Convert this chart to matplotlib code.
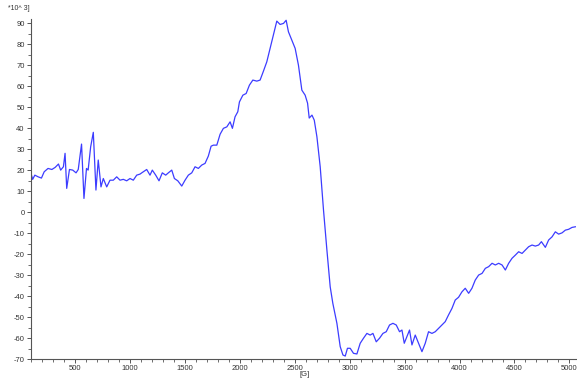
import matplotlib
matplotlib.use("Agg")
import matplotlib.pyplot as plt
from matplotlib.ticker import MultipleLocator

plt.rcParams["font.family"] = ["Liberation Sans", "DejaVu Sans"]
plt.rcParams["axes.unicode_minus"] = False

# Magnetic field [G]
field_g = [
    100, 115, 135, 165, 195, 220, 255, 290, 320, 350, 370, 395, 410, 425, 450,
    480, 510, 530, 560, 582, 605, 620, 643, 667, 691, 712, 737, 758, 789, 819,
    849, 880, 910, 940, 971, 1001, 1031, 1062, 1092, 1108, 1153, 1183, 1204,
    1235, 1265, 1295, 1326, 1350, 1381, 1405, 1436, 1472, 1502, 1532, 1563,
    1593, 1623, 1654, 1684, 1714, 1739, 1760, 1791, 1821, 1851, 1882, 1912,
    1933, 1957, 1982, 1997, 2028, 2058, 2088, 2119, 2155, 2185, 2215, 2246,
    2276, 2306, 2337, 2367, 2398, 2422, 2443, 2474, 2504, 2534, 2565, 2595,
    2617, 2632, 2657, 2678, 2702, 2732, 2762, 2793, 2823, 2847, 2884, 2914,
    2939, 2960, 2980, 3005, 3035, 3066, 3096, 3126, 3157, 3187, 3212, 3242,
    3272, 3303, 3333, 3363, 3394, 3424, 3454, 3476, 3497, 3521, 3545, 3567,
    3597, 3627, 3658, 3688, 3718, 3749, 3779, 3809, 3840, 3870, 3900, 3931,
    3961, 3991, 4022, 4052, 4083, 4113, 4143, 4174, 4205, 4235, 4265, 4296,
    4326, 4356, 4387, 4417, 4447, 4478, 4508, 4538, 4569, 4599, 4629, 4660,
    4690, 4720, 4745, 4781, 4811, 4842, 4872, 4902, 4933, 4963, 4993, 5024,
    5054,
]

# Signal intensity [*10^3]
signal = [
    18.4, 15.6, 17.6, 16.8, 16.2, 19.2, 20.8, 20.3, 21.3, 22.9, 20.0, 21.6,
    28.0, 11.3, 20.3, 20.0, 18.7, 20.3, 32.4, 6.5, 20.8, 20.0, 31.1, 38.0,
    10.5, 24.8, 12.0, 16.0, 12.0, 15.2, 15.2, 16.8, 15.2, 15.6, 14.9, 16.0,
    15.2, 17.6, 18.1, 18.7, 20.3, 17.6, 20.0, 17.6, 14.9, 18.7, 17.6, 18.7,
    20.0, 16.0, 14.9, 12.4, 15.2, 17.6, 18.7, 21.6, 20.8, 22.4, 23.2, 26.7,
    31.4, 31.9, 31.9, 37.1, 39.9, 40.6, 43.0, 39.9, 45.4, 47.8, 52.5, 55.7,
    56.5, 60.5, 62.9, 62.4, 62.9, 67.1, 71.6, 78.0, 84.3, 91.0, 89.4, 89.9,
    91.4, 85.9, 81.9, 78.0, 70.0, 58.1, 55.7, 51.9, 44.8, 46.2, 43.8, 35.9,
    21.6, 1.0, -18.1, -35.6, -43.5, -53.0, -64.1, -68.1, -68.6, -64.9, -64.9,
    -67.3, -67.6, -62.5, -60.1, -57.8, -58.6, -57.8, -61.8, -60.1, -57.8,
    -57.0, -53.8, -53.0, -53.8, -57.0, -56.2, -62.5, -59.4, -56.2, -63.3,
    -58.6, -62.5, -66.5, -62.5, -57.0, -57.8, -57.0, -55.4, -53.8, -52.2,
    -49.0, -45.9, -41.9, -40.6, -38.0, -36.3, -38.7, -36.3, -32.4, -30.0,
    -29.2, -26.8, -26.0, -24.4, -25.2, -24.4, -25.2, -27.6, -24.4, -22.0,
    -20.5, -18.9, -19.7, -18.1, -16.5, -15.7, -16.2, -15.7, -14.1, -16.8,
    -13.3, -11.8, -9.4, -10.5, -9.9, -8.6, -8.2, -7.3, -7.0,
]

axis_color = "#555555"
text_color = "#333333"

fig = plt.figure(figsize=(5.77, 3.80), dpi=100)
ax = fig.add_axes([31 / 577, 21 / 380, 545 / 577, 340 / 380])

ax.plot(field_g, signal, color="#3c3cff", linewidth=0.9)

ax.set_xlim(100, 5060)
ax.set_ylim(-70, 92)

ax.set_xticks(list(range(500, 5001, 500)))
ax.xaxis.set_minor_locator(MultipleLocator(100))
ax.yaxis.set_major_locator(MultipleLocator(10))
ax.yaxis.set_minor_locator(MultipleLocator(5))
ax.set_ylim(-70, 92)

for side in ("top", "right"):
    ax.spines[side].set_visible(False)
for side in ("left", "bottom"):
    ax.spines[side].set_color(axis_color)
    ax.spines[side].set_linewidth(0.8)

ax.tick_params(which="major", direction="out", length=3, width=0.7,
               color=axis_color, labelsize=5.5, labelcolor=text_color, pad=1.5)
ax.tick_params(which="minor", direction="out", length=2, width=0.6,
               color=axis_color)

fig.text(8 / 577, 1 - 8 / 380, "*10^ 3]", fontsize=5, color=text_color,
         ha="left", va="center")
fig.text(305 / 577, 1 - 375 / 380, "[G]", fontsize=5.5, color=text_color,
         ha="center", va="center")

fig.savefig("out.png", dpi=100)
